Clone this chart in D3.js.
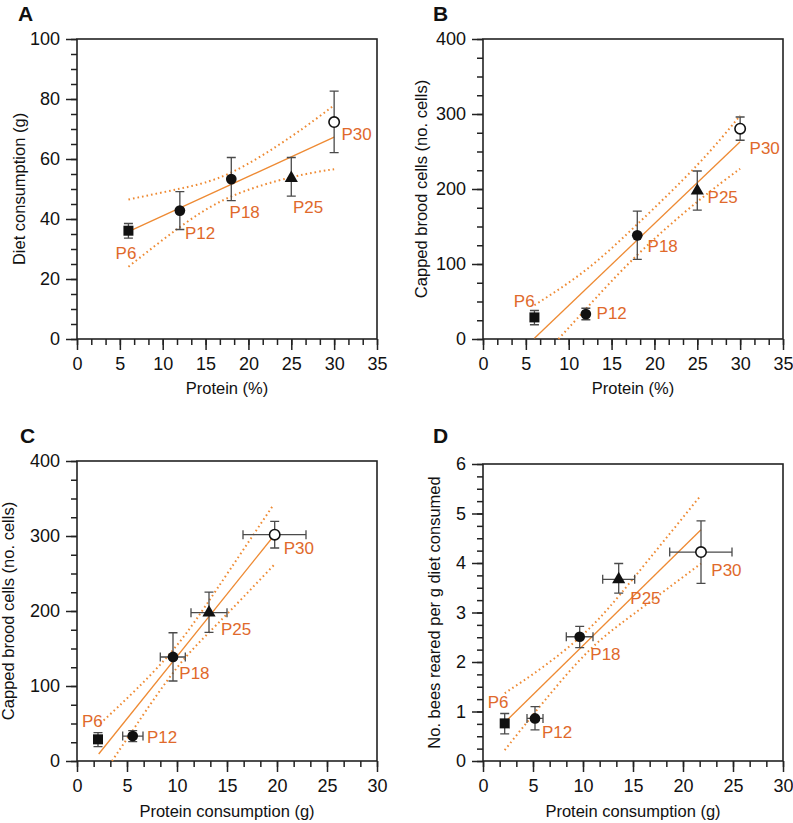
<!DOCTYPE html>
<html>
    <head>
        <title>Protein diets</title>
        <style>
            body, html { margin: 0; padding: 0; background: #fff; }
            text { font-family: "Liberation Sans", Arial, sans-serif; }
        </style>
    </head>
    <body>
        <svg id="svg" width="793" height="823"></svg>

        <script src="https://d3js.org/d3.v7.min.js"></script>
        <script>
            // diets and marker shapes
            const diets = ['P6', 'P12', 'P18', 'P25', 'P30']
            const shapes = ['square', 'circle', 'circle', 'triangle', 'open']
            const protein = [6, 12, 18, 25, 30]

            // A: diet consumption (g)
            const dietMean = [36.1, 42.8, 53.3, 53.6, 72.3]
            const dietLow = [33.6, 36.5, 46.1, 47.6, 62.1]
            const dietHigh = [38.5, 49.1, 60.5, 60.5, 82.6]
            const fitA = [[6, 35.8], [30, 67.3]]
            const upperA = [[6, 46.5], [12, 50.1], [18, 55.5], [25, 67.5], [30, 77.9]]
            const lowerA = [[6, 24.1], [12, 37.3], [18, 47.5], [25, 53.9], [30, 56.6]]
            const labelPosA = [[4.5, 26.6], [12.6, 33.2], [17.8, 40.2], [25.2, 42.1], [30.85, 66.2]]

            // B: capped brood cells vs protein (%)
            const broodMean = [28.8, 33.2, 138.2, 197.6, 280.4]
            const broodLow = [19, 25.7, 106.3, 171.9, 265]
            const broodHigh = [38, 41, 170.5, 224, 296]
            const fitB = [[6, 1], [30, 263]]
            const upperB = [[6, 45], [12, 92], [18, 153], [25, 232], [30, 298]]
            const lowerB = [[8.8, 0], [12, 40], [18, 112], [25, 183], [30, 227]]
            const labelPosB = [[3.6, 42.5], [13.25, 26.6], [19.2, 116.5], [26.2, 180.7], [31.1, 247]]

            // C: capped brood cells vs protein consumption (g)
            const protCons = [2.1, 5.57, 9.6, 13.2, 19.77]
            const protConsLow = [2.1, 4.57, 8.33, 11.4, 16.6]
            const protConsHigh = [2.1, 6.6, 10.83, 15.0, 22.9]
            const broodMeanC = [28.9, 33.3, 138.7, 197.8, 301.8]
            const broodLowC = [19.1, 25.8, 106.7, 171.6, 284]
            const broodHighC = [37.8, 40.4, 171, 225.3, 319.6]
            const fitC = [[2.17, 9.3], [19.67, 300]]
            const upperC = [[2.33, 50], [6, 96.5], [10, 154.4], [14, 229.4], [19.67, 342]]
            const lowerC = [[3.5, 0], [6, 49.3], [10, 124.4], [14, 182.2], [19.67, 261]]
            const labelPosC = [[0.5, 45.8], [7.0, 24.4], [10.23, 110], [14.4, 167.6], [20.67, 276]]

            // D: bees reared per g diet vs protein consumption (g)
            const protConsD = [2.17, 5.2, 9.67, 13.57, 21.8]
            const protConsLowD = [2.17, 4.4, 8.33, 11.97, 18.67]
            const protConsHighD = [2.17, 6.0, 11.0, 15.17, 24.9]
            const beesMean = [0.76, 0.86, 2.51, 3.67, 4.22]
            const beesLow = [0.55, 0.63, 2.29, 3.39, 3.59]
            const beesHigh = [0.96, 1.10, 2.72, 3.99, 4.85]
            const fitD = [[2.47, 0.84], [21.8, 4.67]]
            const upperD = [[2.17, 1.37], [6, 1.90], [10.5, 2.65], [15, 3.68], [21.8, 5.37]]
            const lowerD = [[2.17, 0.22], [6, 1.18], [10.5, 2.21], [15, 2.96], [21.8, 3.99]]
            const labelPosD = [[0.47, 1.07], [5.9, 0.46], [10.73, 2.04], [14.73, 3.18], [22.83, 3.73]]

            // ticks
            const xTicks35 = [0, 5, 10, 15, 20, 25, 30, 35]
            const xTicks30 = [0, 5, 10, 15, 20, 25, 30]
            const yTicksA = [0, 20, 40, 60, 80, 100]
            const yTicksBrood = [0, 100, 200, 300, 400]
            const yTicksD = [0, 1, 2, 3, 4, 5, 6]

            const orange = '#ee8a33'
            const labelOrange = '#e0692b'
            const barColor = '#4a4a4a'

            const svg = d3.select('#svg')

            function drawPanel(p) {
                const x = d3.scaleLinear().domain(p.xDomain).range([p.left, p.right])
                const y = d3.scaleLinear().domain(p.yDomain).range([p.bottom, p.top])
                const g = svg.append('g')

                // minor ticks
                const xMinor = d3.range(0, p.xDomain[1] + 0.01, 5 / 3)
                const yMinor = d3.range(0, p.yDomain[1] + 1e-6, p.yMinorStep)
                g.append('g')
                    .attr('transform', `translate(0, ${p.bottom})`)
                    .call(d3.axisBottom(x).tickValues(xMinor).tickSize(6).tickFormat(''))
                g.append('g')
                    .attr('transform', `translate(${p.left}, 0)`)
                    .call(d3.axisLeft(y).tickValues(yMinor).tickSize(6).tickFormat(''))

                // major ticks
                g.append('g')
                    .attr('transform', `translate(0, ${p.bottom})`)
                    .call(d3.axisBottom(x).tickValues(p.xTicks).tickSize(11).tickPadding(7)
                        .tickFormat(d3.format('d')))
                g.append('g')
                    .attr('transform', `translate(${p.left}, 0)`)
                    .call(d3.axisLeft(y).tickValues(p.yTicks).tickSize(11).tickPadding(6)
                        .tickFormat(d3.format('d')))

                g.selectAll('.domain').remove()
                g.selectAll('.tick line').attr('stroke', '#222').attr('stroke-width', 1.5)
                g.selectAll('.tick text')
                    .attr('fill', '#111')
                    .style('font-size', '18px')
                    .style('font-family', '"Liberation Sans", Arial, sans-serif')

                // frame
                g.append('rect')
                    .attr('x', p.left).attr('y', p.top)
                    .attr('width', p.right - p.left).attr('height', p.bottom - p.top)
                    .attr('fill', 'none').attr('stroke', '#222').attr('stroke-width', 1.6)

                // confidence bands and fit
                const line = d3.line().x(d => x(d[0])).y(d => y(d[1]))
                const curve = d3.line().x(d => x(d[0])).y(d => y(d[1])).curve(d3.curveNatural)
                ;[p.upper, p.lower].forEach(band => {
                    g.append('path')
                        .attr('d', curve(band))
                        .attr('fill', 'none')
                        .attr('stroke', orange)
                        .attr('stroke-width', 2)
                        .attr('stroke-dasharray', '1.6,3')
                })
                g.append('path')
                    .attr('d', line(p.fit))
                    .attr('fill', 'none')
                    .attr('stroke', orange)
                    .attr('stroke-width', 1.3)

                // error bars
                const cap = 4.5
                p.xs.forEach((xv, i) => {
                    const cx = x(xv)
                    const y0 = y(p.lo[i]), y1 = y(p.hi[i])
                    g.append('path')
                        .attr('d', `M${cx},${y0}V${y1}M${cx - cap},${y0}H${cx + cap}M${cx - cap},${y1}H${cx + cap}`)
                        .attr('stroke', barColor).attr('stroke-width', 1.3).attr('fill', 'none')
                    if (p.xlo && p.xhi[i] - p.xlo[i] > 0.01) {
                        const cy = y(p.ys[i])
                        const x0 = x(p.xlo[i]), x1 = x(p.xhi[i])
                        g.append('path')
                            .attr('d', `M${x0},${cy}H${x1}M${x0},${cy - cap}V${cy + cap}M${x1},${cy - cap}V${cy + cap}`)
                            .attr('stroke', barColor).attr('stroke-width', 1.3).attr('fill', 'none')
                    }
                })

                // markers
                p.xs.forEach((xv, i) => {
                    const cx = x(xv), cy = y(p.ys[i])
                    const s = shapes[i]
                    if (s === 'open') {
                        g.append('circle').attr('cx', cx).attr('cy', cy).attr('r', 5.2)
                            .attr('fill', '#fff').attr('stroke', '#111').attr('stroke-width', 1.6)
                    } else {
                        const type = s === 'square' ? d3.symbolSquare
                            : s === 'triangle' ? d3.symbolTriangle : d3.symbolCircle
                        const size = s === 'square' ? 100 : s === 'triangle' ? 75 : 90
                        g.append('path')
                            .attr('d', d3.symbol().type(type).size(size)())
                            .attr('transform', `translate(${cx}, ${cy})`)
                            .attr('fill', '#111')
                    }
                })

                // diet labels
                g.selectAll('text.diet')
                    .data(p.labelPos)
                    .enter()
                    .append('text')
                    .attr('class', 'diet')
                    .attr('x', d => x(d[0]))
                    .attr('y', d => y(d[1]))
                    .style('font-size', '17px')
                    .attr('fill', labelOrange)
                    .text((d, i) => diets[i])

                // axis titles
                g.append('text')
                    .attr('x', (p.left + p.right) / 2)
                    .attr('y', p.xTitleY)
                    .attr('text-anchor', 'middle')
                    .style('font-size', '16.5px')
                    .attr('fill', '#111')
                    .text(p.xTitle)
                g.append('text')
                    .attr('transform', `translate(${p.yTitleX}, ${(p.top + p.bottom) / 2}) rotate(-90)`)
                    .attr('text-anchor', 'middle')
                    .style('font-size', '16.5px')
                    .attr('fill', '#111')
                    .text(p.yTitle)

                // panel letter
                g.append('text')
                    .attr('x', p.letterX).attr('y', p.letterY)
                    .style('font-size', '21px')
                    .attr('font-weight', 'bold')
                    .attr('fill', '#111')
                    .text(p.letter)
            }

            drawPanel({
                letter: 'A', letterX: 18, letterY: 21,
                left: 77, right: 377, top: 39, bottom: 339,
                xDomain: [0, 35], yDomain: [0, 100], xTicks: xTicks35, yTicks: yTicksA, yMinorStep: 5,
                xs: protein, ys: dietMean, lo: dietLow, hi: dietHigh,
                fit: fitA, upper: upperA, lower: lowerA, labelPos: labelPosA,
                xTitle: 'Protein (%)', xTitleY: 394,
                yTitle: 'Diet consumption (g)', yTitleX: 25
            })

            drawPanel({
                letter: 'B', letterX: 433, letterY: 21,
                left: 483, right: 783, top: 39, bottom: 339,
                xDomain: [0, 35], yDomain: [0, 400], xTicks: xTicks35, yTicks: yTicksBrood, yMinorStep: 25,
                xs: protein, ys: broodMean, lo: broodLow, hi: broodHigh,
                fit: fitB, upper: upperB, lower: lowerB, labelPos: labelPosB,
                xTitle: 'Protein (%)', xTitleY: 394,
                yTitle: 'Capped brood cells (no. cells)', yTitleX: 427
            })

            drawPanel({
                letter: 'C', letterX: 20, letterY: 443,
                left: 77, right: 377, top: 461, bottom: 761,
                xDomain: [0, 30], yDomain: [0, 400], xTicks: xTicks30, yTicks: yTicksBrood, yMinorStep: 25,
                xs: protCons, ys: broodMeanC, lo: broodLowC, hi: broodHighC,
                xlo: protConsLow, xhi: protConsHigh,
                fit: fitC, upper: upperC, lower: lowerC, labelPos: labelPosC,
                xTitle: 'Protein consumption (g)', xTitleY: 817,
                yTitle: 'Capped brood cells (no. cells)', yTitleX: 14
            })

            drawPanel({
                letter: 'D', letterX: 433, letterY: 443,
                left: 483, right: 783, top: 464, bottom: 761,
                xDomain: [0, 30], yDomain: [0, 6], xTicks: xTicks30, yTicks: yTicksD, yMinorStep: 0.25,
                xs: protConsD, ys: beesMean, lo: beesLow, hi: beesHigh,
                xlo: protConsLowD, xhi: protConsHighD,
                fit: fitD, upper: upperD, lower: lowerD, labelPos: labelPosD,
                xTitle: 'Protein consumption (g)', xTitleY: 817,
                yTitle: 'No. bees reared per g diet consumed', yTitleX: 440
            })
        </script>
    </body>
</html>
